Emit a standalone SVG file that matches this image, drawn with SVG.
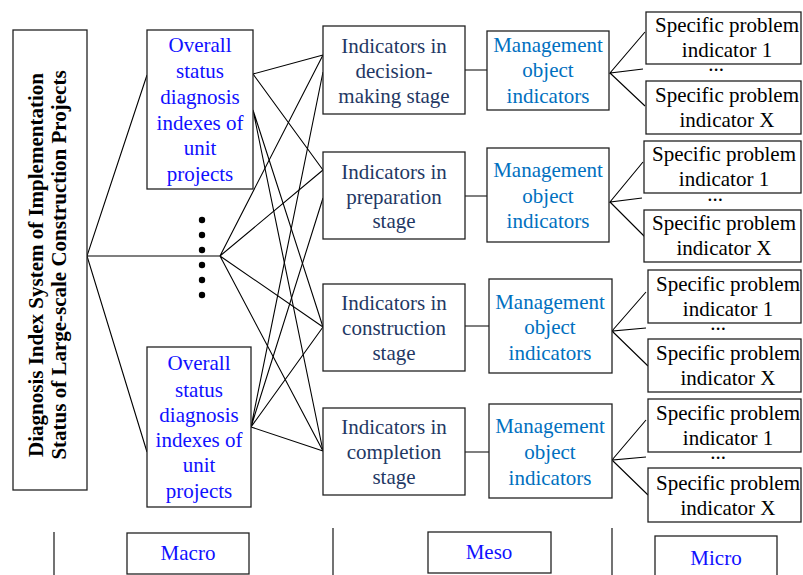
<svg xmlns="http://www.w3.org/2000/svg" width="803" height="575" viewBox="0 0 803 575">
<style>
.box{fill:#fff;stroke:#222;stroke-width:1.3}
.t{font-family:"Liberation Serif","Times New Roman",serif;font-size:21px;text-anchor:middle}
.blue{fill:#1010ff}
.navy{fill:#1f3864}
.mgmt{fill:#0070c0}
.blk{fill:#000}
.c{stroke:#000;stroke-width:1.1;fill:none}
</style>
<rect width="803" height="575" fill="#fff"/>
<g id="connectors">
  <path class="c" d="M147,75 L87,256 L147,452 M87,256 L220,256"/>
  <path class="c" d="M253,74 L323,55 M253,74 L323,170 M253,110 L323,327 M253,110 L323,451"/>
  <path class="c" d="M220,256 L323,55 M220,256 L323,170 M220,256 L323,327 M220,256 L323,451"/>
  <path class="c" d="M251,427 L323,72 M251,427 L323,198 M251,427 L323,327 M251,427 L323,451"/>
  <path class="c" d="M465,70 L487,70 M465,196 L487,196 M465,326 L489,326 M465,452 L489,452"/>
  <path class="c" d="M645,32 L610,73 L643,69 M610,73 L645,106"/>
  <path class="c" d="M643,162 L610,202 L642,198 M610,202 L645,237"/>
  <path class="c" d="M646,292 L612,331 L646,328 M612,331 L648,366"/>
  <path class="c" d="M646,420 L612,460 L646,457 M612,460 L648,495"/>
  <path class="c" d="M54,532 L54,575 M333,528 L333,575 M612,528 L612,575"/>
</g>
<g id="title">
  <rect class="box" x="13" y="30" width="74" height="460"/>
  <text class="t blk" font-weight="bold" transform="translate(43,265) rotate(-90)">Diagnosis Index System of Implementation</text>
  <text class="t blk" font-weight="bold" transform="translate(66,265) rotate(-90)">Status of Large-scale Construction Projects</text>
</g>
<g id="overall1">
  <rect class="box" x="147" y="30" width="106" height="159"/>
  <text class="t blue" x="200" y="52">Overall</text>
  <text class="t blue" x="200" y="78">status</text>
  <text class="t blue" x="200" y="104">diagnosis</text>
  <text class="t blue" x="200" y="130">indexes of</text>
  <text class="t blue" x="200" y="155">unit</text>
  <text class="t blue" x="200" y="181">projects</text>
</g>
<g id="ellipsis">
  <circle cx="202" cy="220" r="3.2"/>
  <circle cx="202" cy="235" r="3.2"/>
  <circle cx="202" cy="250" r="3.2"/>
  <circle cx="202" cy="265" r="3.2"/>
  <circle cx="202" cy="280" r="3.2"/>
  <circle cx="202" cy="295" r="3.2"/>
</g>
<g id="overall2">
  <rect class="box" x="147" y="347" width="104" height="160"/>
  <text class="t blue" x="199" y="370">Overall</text>
  <text class="t blue" x="199" y="397">status</text>
  <text class="t blue" x="199" y="422">diagnosis</text>
  <text class="t blue" x="199" y="447">indexes of</text>
  <text class="t blue" x="199" y="472">unit</text>
  <text class="t blue" x="199" y="498">projects</text>
</g>
<g id="stage-decision">
  <rect class="box" x="323" y="26" width="142" height="88"/>
  <text class="t navy" x="394" y="53">Indicators in</text>
  <text class="t navy" x="394" y="78">decision-</text>
  <text class="t navy" x="394" y="103">making stage</text>
</g>
<g id="stage-preparation">
  <rect class="box" x="323" y="152" width="142" height="87"/>
  <text class="t navy" x="394" y="179">Indicators in</text>
  <text class="t navy" x="394" y="204">preparation</text>
  <text class="t navy" x="394" y="228">stage</text>
</g>
<g id="stage-construction">
  <rect class="box" x="323" y="284" width="142" height="87"/>
  <text class="t navy" x="394" y="310">Indicators in</text>
  <text class="t navy" x="394" y="335">construction</text>
  <text class="t navy" x="394" y="360">stage</text>
</g>
<g id="stage-completion">
  <rect class="box" x="323" y="408" width="142" height="87"/>
  <text class="t navy" x="394" y="434">Indicators in</text>
  <text class="t navy" x="394" y="459">completion</text>
  <text class="t navy" x="394" y="484">stage</text>
</g>
<g id="mgmt1">
  <rect class="box" x="487" y="31" width="122" height="79"/>
  <text class="t mgmt" x="548" y="52">Management</text>
  <text class="t mgmt" x="548" y="77">object</text>
  <text class="t mgmt" x="548" y="103">indicators</text>
</g>
<g id="mgmt2">
  <rect class="box" x="487" y="148" width="122" height="94"/>
  <text class="t mgmt" x="548" y="177">Management</text>
  <text class="t mgmt" x="548" y="203">object</text>
  <text class="t mgmt" x="548" y="228">indicators</text>
</g>
<g id="mgmt3">
  <rect class="box" x="489" y="279" width="123" height="94"/>
  <text class="t mgmt" x="550" y="309">Management</text>
  <text class="t mgmt" x="550" y="334">object</text>
  <text class="t mgmt" x="550" y="360">indicators</text>
</g>
<g id="mgmt4">
  <rect class="box" x="489" y="404" width="123" height="94"/>
  <text class="t mgmt" x="550" y="433">Management</text>
  <text class="t mgmt" x="550" y="459">object</text>
  <text class="t mgmt" x="550" y="485">indicators</text>
</g>
<g id="spec1-1">
  <rect class="box" x="646" y="12" width="155" height="52"/>
  <text class="t blk" x="727" y="32">Specific problem</text>
  <text class="t blk" x="727" y="57">indicator 1</text>
</g>
<g id="spec1-x">
  <rect class="box" x="646" y="81" width="155" height="53"/>
  <text class="t blk" x="727" y="102">Specific problem</text>
  <text class="t blk" x="727" y="127">indicator X</text>
</g>
<g id="spec2-1">
  <rect class="box" x="644" y="141" width="157" height="52"/>
  <text class="t blk" x="724" y="161">Specific problem</text>
  <text class="t blk" x="724" y="186">indicator 1</text>
</g>
<g id="spec2-x">
  <rect class="box" x="644" y="210" width="157" height="52"/>
  <text class="t blk" x="724" y="230">Specific problem</text>
  <text class="t blk" x="724" y="255">indicator X</text>
</g>
<g id="spec3-1">
  <rect class="box" x="648" y="270" width="153" height="53"/>
  <text class="t blk" x="728" y="291">Specific problem</text>
  <text class="t blk" x="728" y="316">indicator 1</text>
</g>
<g id="spec3-x">
  <rect class="box" x="648" y="339" width="153" height="53"/>
  <text class="t blk" x="728" y="360">Specific problem</text>
  <text class="t blk" x="728" y="385">indicator X</text>
</g>
<g id="spec4-1">
  <rect class="box" x="648" y="399" width="153" height="53"/>
  <text class="t blk" x="728" y="420">Specific problem</text>
  <text class="t blk" x="728" y="445">indicator 1</text>
</g>
<g id="spec4-x">
  <rect class="box" x="648" y="468" width="153" height="54"/>
  <text class="t blk" x="728" y="490">Specific problem</text>
  <text class="t blk" x="728" y="515">indicator X</text>
</g>
<g id="dots">
  <text class="t blk" x="716" y="71">...</text>
  <text class="t blk" x="715" y="201">...</text>
  <text class="t blk" x="718" y="330">...</text>
  <text class="t blk" x="718" y="459">...</text>
</g>
<g id="macro">
  <rect class="box" x="127" y="533" width="122" height="41"/>
  <text class="t blue" x="188" y="560">Macro</text>
</g>
<g id="meso">
  <rect class="box" x="428" y="532" width="123" height="41"/>
  <text class="t blue" x="489" y="559">Meso</text>
</g>
<g id="micro">
  <rect class="box" x="655" y="536" width="122" height="45"/>
  <text class="t blue" x="716" y="565">Micro</text>
</g>
</svg>
